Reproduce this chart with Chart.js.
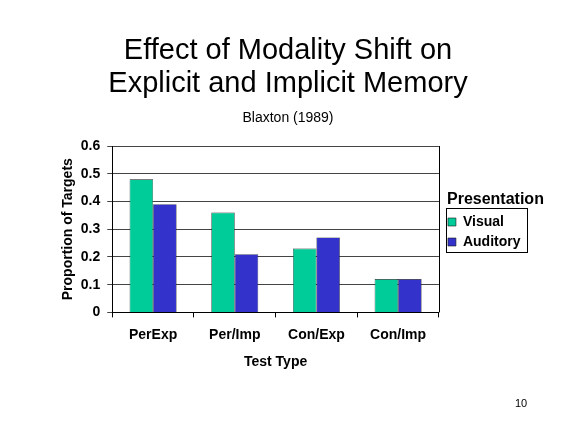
<!DOCTYPE html>
<html>
<head>
<meta charset="utf-8">
<script src="https://cdn.jsdelivr.net/npm/chart.js@4.4.1/dist/chart.umd.min.js"></script>
<style>
  html, body { margin: 0; padding: 0; background: #fff; }
  body { width: 576px; height: 432px; position: relative; overflow: hidden; font-family: "Liberation Sans", Arial, sans-serif; }
  #wrap { position: absolute; left: 0; top: 0; width: 576px; height: 432px; }
  .t { position: absolute; left: 0; width: 576px; text-align: center; color: #000; white-space: nowrap; }
  #title { top: 33px; font-size: 29px; line-height: 33px; }
  #sub { top: 109px; font-size: 14px; line-height: 16px; }
  #page { position: absolute; left: 515px; top: 397px; font-size: 11px; line-height: 13px; color: #000; }
</style>
</head>
<body>
<div id="wrap"><canvas id="c" width="576" height="432"></canvas></div>
<div class="t" id="title">Effect of Modality Shift on<br>Explicit and Implicit Memory</div>
<div class="t" id="sub">Blaxton (1989)</div>
<div id="page">10</div>
<script>
const categories = ["PerExp", "Per/Imp", "Con/Exp", "Con/Imp"];
const visualValues = [0.48, 0.36, 0.23, 0.12];
const auditoryValues = [0.39, 0.21, 0.27, 0.12];
const yTicks = [0, 0.1, 0.2, 0.3, 0.4, 0.5, 0.6];
const seriesNames = ["Visual", "Auditory"];

const FONT = "'Liberation Sans', Arial, sans-serif";

// nudge the legend a little to the right and let its title extend past the items
const legendShift = {
  id: 'legendShift',
  afterLayout(chart) {
    const lg = chart.legend;
    if (!lg) return;
    lg.left += 3;
    lg.width = 107;
    lg.right = lg.left + lg.width;
  }
};

const legendBorder = {
  id: 'legendBorder',
  afterDraw(chart) {
    const lg = chart.legend;
    if (!lg || !lg.legendHitBoxes || !lg.legendHitBoxes.length) return;
    let l = Infinity, t = Infinity, r = -Infinity, b = -Infinity;
    lg.legendHitBoxes.forEach(h => {
      l = Math.min(l, h.left); t = Math.min(t, h.top);
      r = Math.max(r, h.left + h.width); b = Math.max(b, h.top + h.height);
    });
    const ctx = chart.ctx;
    const x0 = Math.round(l - 2) + 0.5, y0 = Math.round(t - 7) + 0.5;
    const x1 = Math.round(r + 6) + 0.5, y1 = Math.round(b + 3) + 0.5;
    ctx.save();
    ctx.strokeStyle = '#000';
    ctx.lineWidth = 1;
    ctx.strokeRect(x0, y0, x1 - x0, y1 - y0);
    ctx.restore();
  }
};

const plotBorder = {
  id: 'plotBorder',
  afterDatasetsDraw(chart) {
    const a = chart.chartArea, ctx = chart.ctx;
    ctx.save();
    ctx.strokeStyle = '#000';
    ctx.lineWidth = 1;
    ctx.beginPath();
    ctx.moveTo(Math.round(a.right) + 0.5, a.top);
    ctx.lineTo(Math.round(a.right) + 0.5, a.bottom);
    ctx.stroke();
    ctx.restore();
  }
};

new Chart(document.getElementById('c'), {
  type: 'bar',
  data: {
    labels: categories,
    datasets: [
      { label: seriesNames[0], data: visualValues, backgroundColor: '#00CC99', borderColor: '#1a1a1a', borderWidth: 0.6 },
      { label: seriesNames[1], data: auditoryValues, backgroundColor: '#3333CC', borderColor: '#1a1a1a', borderWidth: 0.6 }
    ]
  },
  options: {
    responsive: false,
    animation: false,
    devicePixelRatio: 1,
    layout: { padding: { left: 60, top: 146, right: 48.5, bottom: 61 } },
    datasets: { bar: { categoryPercentage: 0.575, barPercentage: 1 } },
    plugins: {
      title: { display: false },
      tooltip: { enabled: false },
      legend: {
        display: true,
        position: 'right',
        align: 'start',
        title: {
          display: true,
          text: 'Presentation',
          position: 'center',
          color: '#000',
          font: { family: FONT, size: 16, weight: 'bold', lineHeight: 1 },
          padding: { top: 46, bottom: 1 }
        },
        labels: {
          color: '#000',
          boxWidth: 8,
          boxHeight: 8,
          padding: 6,
          font: { family: FONT, size: 14, weight: 'bold' }
        }
      }
    },
    scales: {
      x: {
        grid: { display: true, drawOnChartArea: false, drawTicks: true, tickLength: 5, color: '#000', offset: true },
        border: { display: true, color: '#000', width: 1 },
        ticks: { color: '#000', padding: 9, font: { family: FONT, size: 14, weight: 'bold' } },
        title: { display: true, text: 'Test Type', color: '#000', font: { family: FONT, size: 14, weight: 'bold' }, padding: { top: 2, bottom: 0 } }
      },
      y: {
        min: 0,
        max: 0.6,
        afterBuildTicks(axis) { axis.ticks = yTicks.map(v => ({ value: v })); },
        grid: { display: true, drawOnChartArea: true, drawTicks: true, tickLength: 5, color: '#444', lineWidth: 1 },
        border: { display: true, color: '#000', width: 1 },
        ticks: { color: '#000', padding: 7, font: { family: FONT, size: 14, weight: 'bold' },
                 callback: v => (v === 0 ? '0' : v.toFixed(1)) },
        title: { display: true, text: 'Proportion of Targets', color: '#000', font: { family: FONT, size: 14, weight: 'bold' }, padding: { top: 0, bottom: -3 } }
      }
    }
  },
  plugins: [legendShift, legendBorder, plotBorder]
});
</script>
</body>
</html>
